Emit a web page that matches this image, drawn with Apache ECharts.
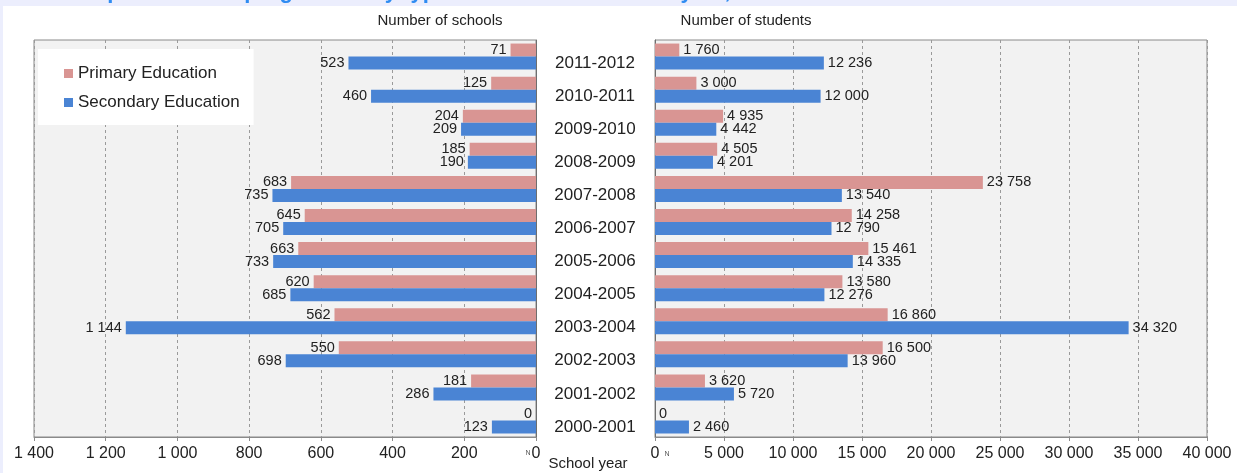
<!DOCTYPE html>
<html>
<head>
<meta charset="utf-8">
<script src="https://cdn.jsdelivr.net/npm/echarts@6/dist/echarts.min.js"></script>
<style>
  html, body { margin: 0; padding: 0; background: #ffffff; }
  #chart { width: 1237px; height: 473px; }
</style>
</head>
<body>
<div id="chart"></div>
<script>
// School years, newest first (top of the chart)
const years = ['2011-2012', '2010-2011', '2009-2010', '2008-2009', '2007-2008', '2006-2007',
               '2005-2006', '2004-2005', '2003-2004', '2002-2003', '2001-2002', '2000-2001'];

// Number of schools
const schoolsPrimary   = [71, 125, 204, 185, 683, 645, 663, 620, 562, 550, 181, 0];
const schoolsSecondary = [523, 460, 209, 190, 735, 705, 733, 685, 1144, 698, 286, 123];

// Number of students
const studentsPrimary   = [1760, 3000, 4935, 4505, 23758, 14258, 15461, 13580, 16860, 16500, 3620, 0];
const studentsSecondary = [12236, 12000, 4442, 4201, 13540, 12790, 14335, 12276, 34320, 13960, 5720, 2460];

const seriesNames = ['Primary Education', 'Secondary Education'];
const axisTitles = ['Number of schools', 'Number of students', 'School year'];

const PINK = '#d99593';
const BLUE = '#4a84d4';
const FONT = '"Liberation Sans", Arial, sans-serif';

// thousands grouped with a space: 12 236
const fmt = v => String(v).replace(/\B(?=(\d{3})+(?!\d))/g, ' ');

const chart = echarts.init(document.getElementById('chart'), null, { renderer: 'canvas' });

const gridStyle = {
  show: true, backgroundColor: '#f2f2f2', borderColor: '#8a8a8a', borderWidth: 1
};

function valueAxis(gridIndex, max, interval, inverse) {
  return {
    type: 'value', gridIndex, min: 0, max, interval, inverse,
    axisLine: { show: true, lineStyle: { color: '#8a8a8a' } },
    axisTick: { show: true, length: 4, lineStyle: { color: '#8a8a8a' } },
    axisLabel: { color: '#222', fontSize: 16, fontFamily: FONT, margin: 9, formatter: fmt },
    splitLine: { show: true, lineStyle: { color: '#9a9a9a', type: [3, 3], width: 1 } }
  };
}

function barSeries(name, data, xi, color, pos) {
  return {
    name, type: 'bar', xAxisIndex: xi, yAxisIndex: xi, data,
    barWidth: 13, barGap: '0%',
    itemStyle: { color },
    label: {
      show: true, position: pos, distance: 4, color: '#222',
      fontSize: 14.5, fontFamily: FONT, formatter: p => fmt(p.value)
    },
    emphasis: { disabled: true },
    animation: false
  };
}

chart.setOption({
  backgroundColor: '#ffffff',
  animation: false,
  textStyle: { fontFamily: FONT },
  legend: {
    data: seriesNames,
    orient: 'vertical',
    left: 38, top: 49,
    padding: [16, 14, 14, 26],
    itemGap: 12,
    itemWidth: 9, itemHeight: 9,
    icon: 'rect',
    backgroundColor: '#ffffff',
    textStyle: { color: '#222', fontSize: 17, fontFamily: FONT }
  },
  grid: [
    Object.assign({ left: 34, right: 1237 - 536, top: 40, height: 397 }, gridStyle),
    Object.assign({ left: 655, right: 1237 - 1207, top: 40, height: 397 }, gridStyle)
  ],
  xAxis: [
    valueAxis(0, 1400, 200, true),
    valueAxis(1, 40000, 5000, false)
  ],
  yAxis: [
    {
      type: 'category', gridIndex: 0, data: years, inverse: true, position: 'right',
      axisLine: { show: true, lineStyle: { color: '#6e6e6e' } },
      axisTick: { show: false },
      axisLabel: {
        color: '#222', fontSize: 17, fontFamily: FONT, margin: 59, align: 'center',
        verticalAlign: 'top', lineHeight: 13
      },
      splitLine: { show: false }
    },
    {
      type: 'category', gridIndex: 1, data: years, inverse: true, position: 'left',
      axisLine: { show: true, lineStyle: { color: '#6e6e6e' } },
      axisTick: { show: false },
      axisLabel: { show: false },
      splitLine: { show: false }
    }
  ],
  series: [
    barSeries(seriesNames[0], schoolsPrimary, 0, PINK, 'left'),
    barSeries(seriesNames[1], schoolsSecondary, 0, BLUE, 'left'),
    barSeries(seriesNames[0], studentsPrimary, 1, PINK, 'right'),
    barSeries(seriesNames[1], studentsSecondary, 1, BLUE, 'right')
  ],
  graphic: [
    // page frame strips
    { type: 'rect', left: 0, top: 0, shape: { width: 1237, height: 6 }, style: { fill: '#eceefd' }, silent: true },
    { type: 'rect', left: 0, top: 0, shape: { width: 3, height: 473 }, style: { fill: '#eceefd' }, silent: true },
    // heading running off the top edge
    {
      type: 'text', left: 40, top: -19, silent: true,
      style: {
        text: 'Participation in the programme by type of school and school year, 2000-2001 to 2011-2012',
        fill: '#2f8cf2', font: 'bold 22px ' + FONT
      }
    },
    {
      type: 'text', x: 440, y: 21, silent: true,
      style: { text: axisTitles[0], fill: '#222', font: '15px ' + FONT, align: 'center', verticalAlign: 'middle' }
    },
    {
      type: 'text', x: 746, y: 21, silent: true,
      style: { text: axisTitles[1], fill: '#222', font: '15px ' + FONT, align: 'center', verticalAlign: 'middle' }
    },
    {
      type: 'text', x: 588, y: 464, silent: true,
      style: { text: axisTitles[2], fill: '#222', font: '15px ' + FONT, align: 'center', verticalAlign: 'middle' }
    },
    {
      type: 'text', x: 528, y: 453, silent: true,
      style: { text: 'N', fill: '#555', font: '7px ' + FONT, align: 'center', verticalAlign: 'middle' }
    },
    {
      type: 'text', x: 667, y: 454, silent: true,
      style: { text: 'N', fill: '#555', font: '7px ' + FONT, align: 'center', verticalAlign: 'middle' }
    }
  ]
});
</script>
</body>
</html>
